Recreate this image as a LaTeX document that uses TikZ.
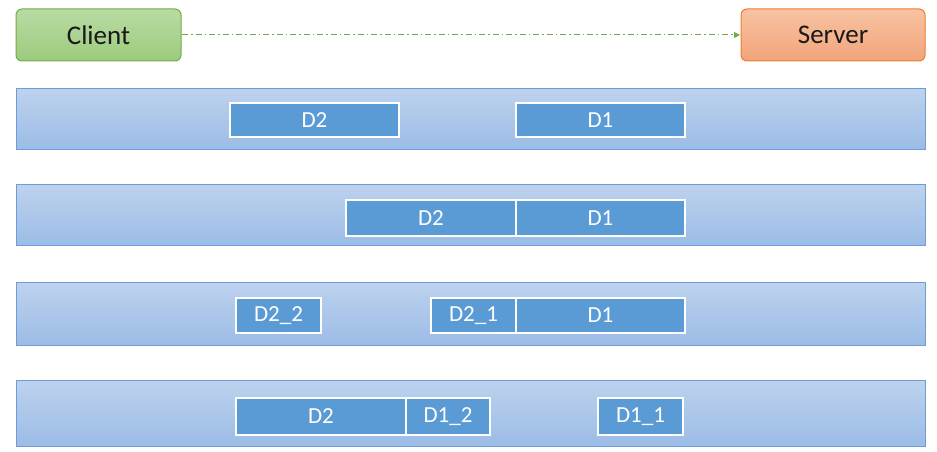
\documentclass[tikz,border=0pt]{standalone}
\usepackage{fontspec}
\setmainfont{Carlito}
\usetikzlibrary{arrows.meta}
\definecolor{bandtop}{HTML}{BDD2EE}
\definecolor{bandbot}{HTML}{9CBCE6}
\definecolor{bandline}{HTML}{6F9CD6}
\definecolor{dfill}{HTML}{5B9BD5}
\definecolor{cltop}{HTML}{B9DBA4}
\definecolor{clbot}{HTML}{9CCB7D}
\definecolor{clline}{HTML}{70AD47}
\definecolor{svtop}{HTML}{F8C3A2}
\definecolor{svbot}{HTML}{F2A47A}
\definecolor{svline}{HTML}{ED7D31}
\definecolor{arrowc}{HTML}{70AD47}
\tikzset{
  x=1pt, y=-1pt,
  band/.style={draw=bandline, line width=1pt, top color=bandtop, bottom color=bandbot},
  dbox/.style={draw=white, line width=1.2pt, fill=dfill},
  dtext/.style={text=white, font=\fontsize{23}{23}\selectfont},
  cstext/.style={text=black!90, font=\fontsize{27}{27}\selectfont},
  clientbox/.style={draw=clline, line width=1pt, rounded corners=6pt, top color=cltop, bottom color=clbot},
  serverbox/.style={draw=svline, line width=1pt, rounded corners=6pt, top color=svtop, bottom color=svbot},
  conn/.style={draw=arrowc, line width=1pt, dash pattern=on 6pt off 3pt on 1.5pt off 3pt, -{Triangle[length=6pt,width=6pt]}}
}
\newcommand{\dnode}[6]{\path[dbox] (#2,#3) rectangle (#4,#5); \node[dtext] (#1) at ({(#2+#4)/2},{(#3+#5)/2}) {#6};}
\begin{document}
\begin{tikzpicture}
\useasboundingbox (0,0) rectangle (937,452);
\fill[white] (0,0) rectangle (937,452);
% client / server
\path[clientbox] (16,9) rectangle (181,61);
\node[cstext] (client) at (98.5,35) {Client};
\path[serverbox] (741,9) rectangle (925,61);
\node[cstext] (server) at (833,35) {Server};
\coordinate (cr) at (182,35);
\coordinate (sl) at (740,35);
\draw[conn] (cr) -- (sl);
% bands
\path[band] (16,88) rectangle (925,149);
\path[band] (16,184) rectangle (925,245);
\path[band] (16,282) rectangle (925,345);
\path[band] (16,380) rectangle (925,446);
% band 1
\dnode{aD2}{230}{103}{399}{137}{D2}
\dnode{aD1}{516}{103}{685}{137}{D1}
% band 2
\dnode{bD2}{346}{200}{516}{236}{D2}
\dnode{bD1}{516}{200}{685}{236}{D1}
% band 3
\dnode{cD22}{236}{298}{321}{333}{D2\_2}
\dnode{cD21}{431}{298}{516}{333}{D2\_1}
\dnode{cD1}{516}{298}{685}{333}{D1}
% band 4
\dnode{dD2}{236}{398}{406}{435}{D2}
\dnode{dD12}{406}{398}{490}{435}{D1\_2}
\dnode{dD11}{598}{398}{683}{435}{D1\_1}
\end{tikzpicture}
\end{document}
